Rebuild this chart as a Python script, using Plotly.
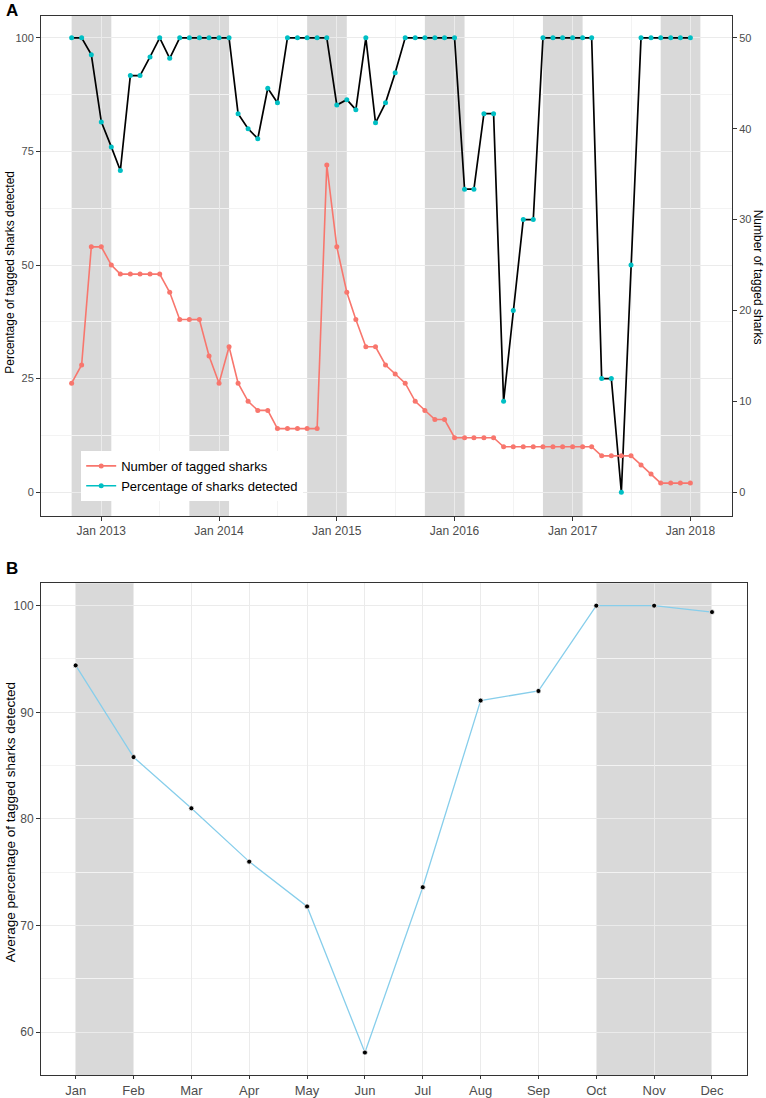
import pandas as pd
import plotly.graph_objects as go

# Panel A: monthly detections, Oct 2012 - Jan 2018
months_a = pd.date_range('2012-10-01', '2018-01-01', freq='MS')

pct_detected = [100, 100, 96.3,
                81.5, 76.0, 70.8, 91.7, 91.7, 95.8, 100, 95.5, 100, 100, 100, 100,
                100, 100, 83.3, 80.0, 77.8, 88.9, 85.7, 100, 100, 100, 100, 100,
                85.2, 86.4, 84.2, 100, 81.3, 85.7, 92.3, 100, 100, 100, 100, 100,
                100, 66.7, 66.7, 83.3, 83.3, 20, 40, 60, 60, 100, 100, 100,
                100, 100, 100, 25, 25, 0, 50, 100, 100, 100, 100, 100,
                100]

n_tagged = [12, 14, 27,
            27, 25, 24, 24, 24, 24, 24, 22, 19, 19, 19, 15,
            12, 16, 12, 10, 9, 9, 7, 7, 7, 7, 7, 36,
            27, 22, 19, 16, 16, 14, 13, 12, 10, 9, 8, 8,
            6, 6, 6, 6, 6, 5, 5, 5, 5, 5, 5, 5,
            5, 5, 5, 4, 4, 4, 4, 3, 2, 1, 1, 1,
            1]

# shaded seasons (Oct - Jan)
season_start = ['2012-10-01', '2013-10-01', '2014-10-01', '2015-10-01', '2016-10-01', '2017-10-01']
season_end = ['2013-02-01', '2014-02-01', '2015-02-01', '2016-02-01', '2017-02-01', '2018-02-01']

# Panel B: average by calendar month
month_names = ['Jan', 'Feb', 'Mar', 'Apr', 'May', 'Jun', 'Jul', 'Aug', 'Sep', 'Oct', 'Nov', 'Dec']
avg_pct = [94.4, 85.8, 81.0, 76.0, 71.8, 58.1, 73.6, 91.1, 92.0, 100, 100, 99.4]
season_b_start = ['Jan', 'Oct']
season_b_end = ['Feb', 'Dec']

RED = '#F8766D'
TEAL = '#00BFC4'
FONT = 'Liberation Sans'
TICKCOL = '#4D4D4D'
BORDER = '#333333'
GRID = '#EBEBEB'
GRID_MINOR = '#F3F3F3'
BAND = 'rgba(120,120,120,0.28)'

fig = go.Figure()

fig.add_trace(go.Scatter(
    x=months_a, y=n_tagged, mode='lines+markers', name='Number of tagged sharks',
    line=dict(color=RED, width=1.6), marker=dict(color=RED, size=5),
    xaxis='x', yaxis='y2'))
fig.add_trace(go.Scatter(
    x=months_a, y=pct_detected, mode='lines', showlegend=False,
    line=dict(color='black', width=1.7), xaxis='x', yaxis='y'))
fig.add_trace(go.Scatter(
    x=months_a, y=pct_detected, mode='markers', showlegend=False,
    marker=dict(color=TEAL, size=5), xaxis='x', yaxis='y'))
# legend entry only
fig.add_trace(go.Scatter(
    x=[None], y=[None], mode='lines+markers', name='Percentage of sharks detected',
    line=dict(color=TEAL, width=1.6), marker=dict(color=TEAL, size=5),
    xaxis='x', yaxis='y'))

fig.add_trace(go.Scatter(
    x=month_names, y=avg_pct, mode='lines+markers', showlegend=False,
    line=dict(color='#87CEEB', width=1.3),
    marker=dict(color='black', size=5, line=dict(color='white', width=0.8)),
    xaxis='x2', yaxis='y3'))

shapes = []
for s, e in zip(season_start, season_end):
    shapes.append(dict(type='rect', xref='x', yref='paper', x0=s, x1=e, y0=0.5300, y1=0.9854,
                       fillcolor=BAND, line=dict(width=0), layer='below'))
for s, e in zip(season_b_start, season_b_end):
    shapes.append(dict(type='rect', xref='x2', yref='paper', x0=s, x1=e, y0=0.0210, y1=0.4688,
                       fillcolor=BAND, line=dict(width=0), layer='below'))

axis_common = dict(showline=True, linecolor=BORDER, linewidth=1, mirror=True,
                   ticks='outside', ticklen=4, tickcolor=BORDER, tickwidth=1,
                   gridcolor=GRID, gridwidth=1.1, zeroline=False)

annotations = [
    dict(text='<b>A</b>', x=0.005, y=0.990, xref='paper', yref='paper', showarrow=False,
         xanchor='left', yanchor='middle', font=dict(size=17, color='black')),
    dict(text='<b>B</b>', x=0.005, y=0.4825, xref='paper', yref='paper', showarrow=False,
         xanchor='left', yanchor='middle', font=dict(size=17, color='black')),
    dict(text='Percentage of tagged sharks detected', x=0.0137, y=0.752, xref='paper',
         yref='paper', showarrow=False, textangle=-90, xanchor='center', yanchor='middle',
         font=dict(size=12, color='black')),
    dict(text='Number of tagged sharks', x=0.9896, y=0.748, xref='paper',
         yref='paper', showarrow=False, textangle=90, xanchor='center', yanchor='middle',
         font=dict(size=12, color='black')),
    dict(text='Average percentage of tagged sharks detected', x=0.013, y=0.251, xref='paper',
         yref='paper', showarrow=False, textangle=-90, xanchor='center', yanchor='middle',
         font=dict(size=13.5, color='black')),
]

fig.update_layout(
    width=766, height=1098,
    margin=dict(l=0, r=0, t=0, b=0),
    paper_bgcolor='white', plot_bgcolor='white',
    template='none',
    font=dict(family=FONT, color=TICKCOL),
    shapes=shapes,
    annotations=annotations,
    xaxis=dict(axis_common, domain=[0.0535, 0.9556], anchor='y', type='date',
               range=['2012-06-28', '2018-05-10'], dtick='M12', tick0='2013-01-01',
               tickformat='%b %Y', tickfont=dict(size=12, color=TICKCOL),
               minor=dict(dtick='M6', tick0='2013-01-01', showgrid=True,
                          gridcolor=GRID_MINOR, gridwidth=0.7, ticks='')),
    yaxis=dict(axis_common, domain=[0.5300, 0.9854], anchor='x', range=[-5.25, 104.8],
               tickvals=[0, 25, 50, 75, 100], tickfont=dict(size=11, color=TICKCOL),
               minor=dict(dtick=12.5, tick0=0, showgrid=True, gridcolor=GRID_MINOR,
                          gridwidth=0.7, ticks='')),
    yaxis2=dict(overlaying='y', side='right', anchor='x', range=[-2.625, 52.4],
                tickvals=[0, 10, 20, 30, 40, 50], showgrid=False, zeroline=False,
                showline=True, linecolor=BORDER, linewidth=1,
                ticks='outside', ticklen=4, tickcolor=BORDER,
                tickfont=dict(size=11, color=TICKCOL)),
    xaxis2=dict(axis_common, domain=[0.0535, 0.9748], anchor='y3', type='category',
                categoryorder='array', categoryarray=month_names, range=[-0.6, 11.6],
                ticklen=3, tickfont=dict(size=13, color=TICKCOL)),
    yaxis3=dict(axis_common, domain=[0.0210, 0.4688], anchor='x2', range=[56.0, 102.1],
                tickvals=[60, 70, 80, 90, 100], tickfont=dict(size=12, color=TICKCOL),
                minor=dict(dtick=5, tick0=0, showgrid=True, gridcolor=GRID_MINOR,
                           gridwidth=0.7, ticks='')),
    legend=dict(x=0.106, y=0.5893, xanchor='left', yanchor='top', bgcolor='white',
                font=dict(size=13, color='black'), itemwidth=30, tracegroupgap=0),
    showlegend=True,
)

fig.write_html('out.html', config={'displayModeBar': False},
               post_script="document.body.style.margin='0';")
